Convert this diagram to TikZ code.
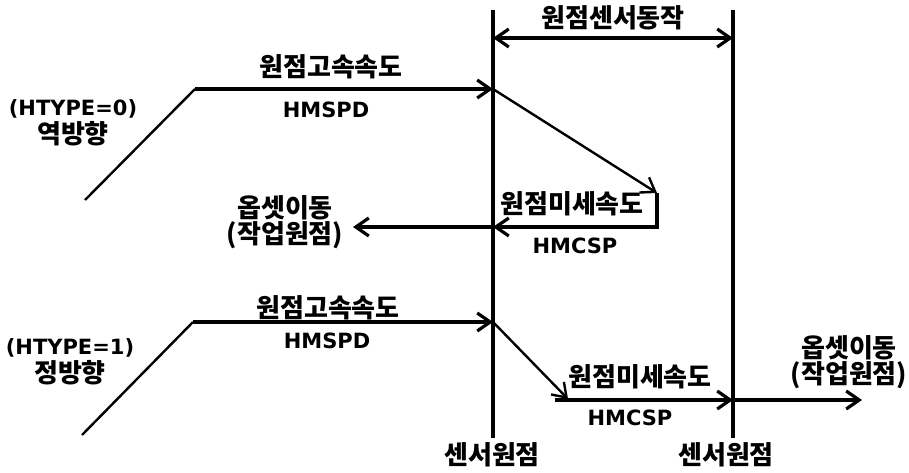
\documentclass[tikz,border=0pt]{standalone}
\usepackage{fontspec}
\usetikzlibrary{arrows.meta}
\newfontfamily\krfont{Noto Sans CJK KR}
\newfontfamily\latfont{DejaVu Sans}
\begin{document}
\begin{tikzpicture}[x=1pt,y=-1pt,
  line/.style={line width=3.2pt,line join=miter},
  thin/.style={line width=2.4pt},
  arr/.style={-{Straight Barb[length=13pt,width=18pt]}},
  darr/.style={{Straight Barb[length=13pt,width=18pt]}-{Straight Barb[length=13pt,width=18pt]}},
  kr/.style={inner sep=0pt,font=\krfont\bfseries\fontsize{26}{21}\selectfont},
  krtwo/.style={inner sep=0pt,align=center,font=\krfont\bfseries\fontsize{26}{21}\selectfont},
  lt/.style={inner sep=0pt,font=\latfont\bfseries\fontsize{21}{22}\selectfont}]
\useasboundingbox (0,0) rectangle (909,473);
% vertical sensor lines
\coordinate (v1t) at (493,10); \coordinate (v1b) at (493,438);
\coordinate (v2t) at (733,10); \coordinate (v2b) at (733,438);
\draw[line] (v1t) -- (v1b);
\draw[line] (v2t) -- (v2b);
% dimension arrow
\coordinate (d1) at (493,38); \coordinate (d2) at (733,38);
\draw[line,darr] (d1) -- (d2);
\node[kr] (tdim) at (613,18) {원점센서동작};
% upper path (HTYPE=0)
\coordinate (a0) at (85,200); \coordinate (a1) at (195,89);
\coordinate (a2) at (493,89); \coordinate (a3) at (657,193);
\coordinate (a4) at (657,227); \coordinate (a5) at (493,227);
\coordinate (a6) at (353,227);
\draw[thin] (a0) -- (a1);
\draw[line,arr] (a1) -- (a2);
\draw[thin,arr] (a2) -- (a3);
\draw[line,arr] (a3) -- (a4) -- (a5);
\draw[line,arr] (a5) -- (a6);
\node[kr] (u1) at (331,67) {원점고속속도};
\node[lt] (u2) at (326,110) {HMSPD};
\node[inner sep=0pt,align=center] (u3) at (73,123)
  {{\latfont\bfseries\fontsize{21}{22}\selectfont (HTYPE=0)}\\[2pt]{\krfont\bfseries\fontsize{26}{21}\selectfont 역방향}};
\node[kr] (u5) at (572,204) {원점미세속도};
\node[lt] (u6) at (575,246) {HMCSP};
\node[krtwo] (u7) at (285,222) {옵셋이동\\(작업원점)};
% lower path (HTYPE=1)
\coordinate (b0) at (82,435); \coordinate (b1) at (193,322);
\coordinate (b2) at (493,322); \coordinate (b3) at (568,399);
\coordinate (b4) at (555,400); \coordinate (b5) at (733,400);
\coordinate (b6) at (862,400);
\draw[thin] (b0) -- (b1);
\draw[line,arr] (b1) -- (b2);
\draw[thin,arr] (b2) -- (b3);
\draw[line,arr] (b4) -- (b5);
\draw[line,arr] (b5) -- (b6);
\node[kr] (l1) at (328,308) {원점고속속도};
\node[lt] (l2) at (327,341) {HMSPD};
\node[inner sep=0pt,align=center] (l3) at (70,362)
  {{\latfont\bfseries\fontsize{21}{22}\selectfont (HTYPE=1)}\\[2pt]{\krfont\bfseries\fontsize{26}{21}\selectfont 정방향}};
\node[kr] (l5) at (640,377) {원점미세속도};
\node[lt] (l6) at (630,418) {HMCSP};
\node[krtwo] (l7) at (849,362) {옵셋이동\\(작업원점)};
% bottom labels
\node[kr] (s1) at (492,455) {센서원점};
\node[kr] (s2) at (726,455) {센서원점};
\end{tikzpicture}
\end{document}
